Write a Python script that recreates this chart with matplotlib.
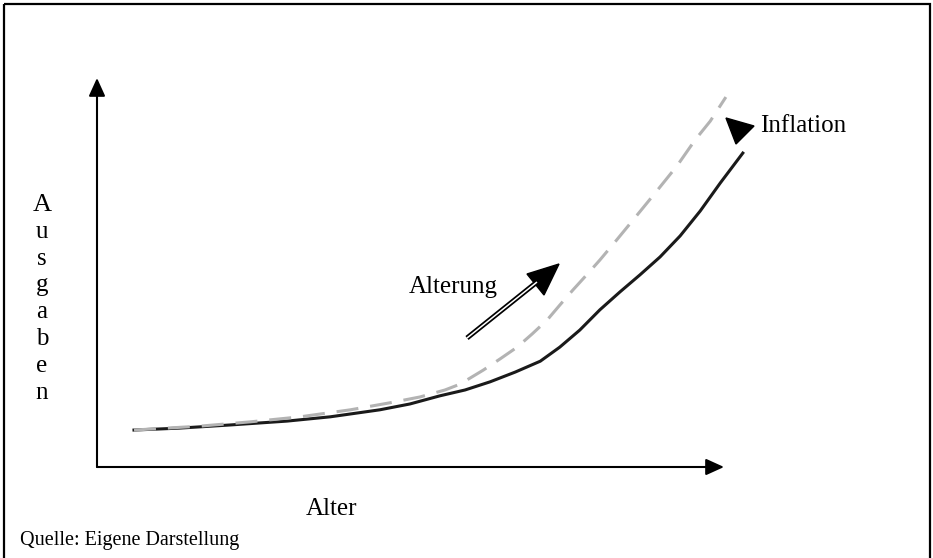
import matplotlib
matplotlib.use("Agg")
import matplotlib.pyplot as plt
from matplotlib.patches import Polygon, Rectangle

plt.rcParams['font.family'] = ['Liberation Serif', 'DejaVu Serif']

# schematic curves, Alter vs. Ausgaben (arbitrary units 0..100)
alter_basis = [5.9, 13.2, 21.2, 30.3, 37.2, 45.1, 49.9, 54.7, 58.7, 62.7, 66.7, 70.7,
               73.8, 77.0, 80.2, 83.4, 86.6, 89.8, 93.0, 96.2, 99.4, 103.0]
ausgaben_basis = [9.5, 10.0, 10.8, 11.8, 12.9, 14.7, 16.2, 18.3, 19.8, 21.9, 24.4, 27.2,
                  30.8, 35.2, 40.4, 45.0, 49.4, 54.0, 59.4, 65.8, 73.0, 80.7]

alter_infl = [5.9, 16.4, 24.4, 32.4, 40.4, 46.7, 51.5, 55.5, 57.9, 61.6, 64.3, 67.0, 69.4,
              71.8, 73.8, 75.9, 78.1, 80.2, 82.9, 85.5, 89.0, 92.5, 95.4, 97.8, 100.3]
ausgaben_infl = [9.5, 10.5, 11.6, 12.9, 14.7, 16.5, 18.0, 19.8, 21.3, 24.9, 27.8, 30.8, 34.2,
                 37.8, 41.6, 45.5, 49.4, 53.2, 58.4, 63.5, 70.4, 77.4, 84.1, 88.9, 95.1]

ylabel_letters = list("Ausgaben")

W, H = 933, 558
fig = plt.figure(figsize=(W / 100, H / 100), dpi=100)

# overlay in pixel coordinates for frame, labels and annotation arrows
ov = fig.add_axes([0, 0, 1, 1])
ov.set_xlim(0, W)
ov.set_ylim(H, 0)
ov.axis('off')

ov.add_patch(Rectangle((4, 4), 926, 600, fill=False, ec='black', lw=1.6, clip_on=False))

# main plot area
ax = fig.add_axes([97 / W, (H - 467) / H, 627 / W, 389 / H])
ax.set_xlim(0, 100)
ax.set_ylim(0, 100)
ax.axis('off')
ax.patch.set_alpha(0)

arr = dict(arrowstyle='-|>,head_length=1.1,head_width=0.5', lw=1.5, color='black',
           shrinkA=0, shrinkB=0)
ax.annotate('', xy=(0, 1), xytext=(0, 0), xycoords='axes fraction', arrowprops=arr)
ax.annotate('', xy=(1, 0), xytext=(0, 0), xycoords='axes fraction', arrowprops=arr)

ax.plot(alter_basis, ausgaben_basis, color='#1a1a1a', lw=2.2, clip_on=False,
        solid_joinstyle='round')
ax.plot(alter_infl, ausgaben_infl, color='#b3b3b3', lw=2.2, dashes=(7.2, 3.9), clip_on=False,
        dash_joinstyle='round')

# Alterung arrow (double shaft)
ov.plot([467, 537], [338, 282], color='black', lw=3.6, solid_capstyle='butt')
ov.plot([467, 537], [338, 282], color='white', lw=1.1, solid_capstyle='butt')
ov.add_patch(Polygon([[559, 264], [527, 274], [544, 295]], closed=True, fc='black', ec='black'))
ov.text(453, 287, 'Alterung', fontsize=18, ha='center', va='center')

# Inflation arrow head
ov.add_patch(Polygon([[726, 118], [754, 126], [736, 144]], closed=True, fc='black', ec='black'))
ov.text(760, 126, 'Inflation', fontsize=18, ha='left', va='center')

ov.text(331, 509, 'Alter', fontsize=18, ha='center', va='center')
for i, ch in enumerate(ylabel_letters):
    ov.text(42, 205 + i * 26.8, ch, fontsize=19 if i == 0 else 18, ha='center', va='center')

ov.text(20, 541, 'Quelle: Eigene Darstellung', fontsize=14.5, ha='left', va='center')

fig.savefig('out.png', dpi=100)
